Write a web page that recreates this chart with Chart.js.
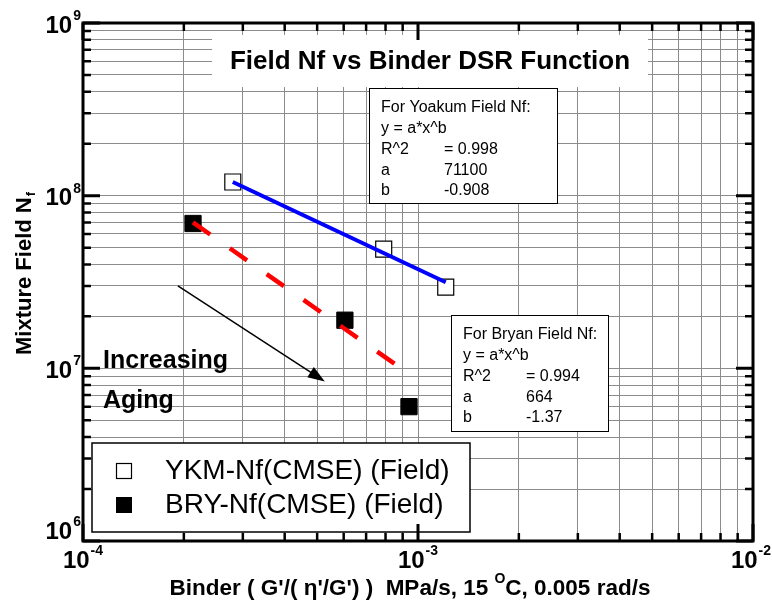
<!DOCTYPE html>
<html>
<head>
<meta charset="utf-8">
<script src="https://cdn.jsdelivr.net/npm/chart.js@4.4.0/dist/chart.umd.min.js"></script>
<style>
  html, body { margin: 0; padding: 0; background: #fff; }
  canvas { display: block; }
</style>
</head>
<body>
<canvas id="chart" width="772" height="604"></canvas>
<script>
// Data
const ykmX = [2.8e-4, 7.9e-4, 1.21e-3];
const ykmY = [1.2e8, 4.9e7, 2.95e7];
const bryX = [2.13e-4, 6.05e-4, 9.4e-4];
const bryY = [6.9e7, 1.9e7, 6.0e6];

// fitted power lines (end points as drawn)
const ykmFitX = [2.8e-4, 1.21e-3];
const ykmFitY = [1.2e8, 3.15e7];
const bryFitX = [2.13e-4, 8.9e-4];
const bryFitY = [7.0e7, 1.0e7];

// "Increasing Aging" arrow
const arrowX = [1.92e-4, 5.27e-4];
const arrowY = [3.0e7, 8.4e6];

// axes
const xExponents = [-4, -3, -2];
const yExponents = [6, 7, 8, 9];
const mantissas = [1, 2, 3, 4, 5, 6, 7, 8, 9];

const legendLabels = ['YKM-Nf(CMSE) (Field)', 'BRY-Nf(CMSE) (Field)'];
const yoakumLines = [['For Yoakum Field Nf:', ''], ['y = a*x^b', ''], ['R^2', '= 0.998'], ['a', '71100'], ['b', '-0.908']];
const bryanLines = [['For Bryan Field Nf:', ''], ['y = a*x^b', ''], ['R^2', '= 0.994'], ['a', '664'], ['b', '-1.37']];

function gridValues(exps) {
  const vals = [];
  for (let i = 0; i < exps.length; i++) {
    const e = exps[i];
    if (i === exps.length - 1) { vals.push(Math.pow(10, e)); break; }
    mantissas.forEach(m => vals.push(m * Math.pow(10, e)));
  }
  return vals;
}
const xGrid = gridValues(xExponents);
const yGrid = gridValues(yExponents);

function pts(xs, ys) {
  return xs.map((x, i) => ({ x: x, y: ys[i] }));
}

const FONT = "Arial, 'Liberation Sans', Helvetica, sans-serif";

function textBox(ctx, left, top, right, bottom, lines, textLeft, firstY, step) {
  ctx.save();
  ctx.fillStyle = '#fff';
  ctx.fillRect(left, top, right - left, bottom - top);
  ctx.strokeStyle = '#000';
  ctx.lineWidth = 1;
  ctx.strokeRect(left + 0.5, top + 0.5, right - left, bottom - top);
  ctx.fillStyle = '#000';
  ctx.font = '16px ' + FONT;
  ctx.textBaseline = 'middle';
  ctx.textAlign = 'left';
  lines.forEach((ln, i) => {
    const y = firstY + i * step;
    ctx.fillText(ln[0], textLeft, y);
    if (ln[1]) ctx.fillText(ln[1], textLeft + 63, y);
  });
  ctx.restore();
}

function powerLabel(ctx, exp, x, y, align) {
  ctx.save();
  ctx.fillStyle = '#000';
  ctx.textBaseline = 'middle';
  ctx.textAlign = 'left';
  ctx.font = 'bold 24px ' + FONT;
  const w1 = ctx.measureText('10').width;
  ctx.font = 'bold 14px ' + FONT;
  const w2 = ctx.measureText(String(exp)).width;
  const total = w1 + w2 + 1;
  let x0 = x;
  if (align === 'right') x0 = x - total;
  if (align === 'center') x0 = x - total / 2;
  ctx.font = 'bold 24px ' + FONT;
  ctx.fillText('10', x0, y);
  ctx.font = 'bold 14px ' + FONT;
  ctx.fillText(String(exp), x0 + w1 + 1, y - 10);
  ctx.restore();
}

const overlay = {
  id: 'overlay',
  beforeDatasetsDraw(chart) {
    const ctx = chart.ctx;
    // title box
    ctx.save();
    ctx.fillStyle = '#fff';
    ctx.fillRect(212, 35, 436, 52);
    ctx.fillStyle = '#000';
    ctx.font = 'bold 26px ' + FONT;
    ctx.textAlign = 'center';
    ctx.textBaseline = 'middle';
    ctx.fillText('Field Nf vs Binder DSR Function', 430, 62);
    ctx.restore();

    textBox(ctx, 369, 88, 557, 203, yoakumLines, 381, 108, 20.7);
    textBox(ctx, 451, 315, 608, 431, bryanLines, 463, 335, 20.7);

    // legend
    ctx.save();
    ctx.fillStyle = '#fff';
    ctx.fillRect(92, 443, 378, 89);
    ctx.strokeStyle = '#000';
    ctx.lineWidth = 1.5;
    ctx.strokeRect(92, 443, 378, 89);
    ctx.lineWidth = 1.2;
    ctx.strokeRect(116.5, 463.5, 15, 15);
    ctx.fillStyle = '#000';
    ctx.fillRect(116, 497, 16, 16);
    ctx.font = '28px ' + FONT;
    ctx.textBaseline = 'middle';
    ctx.fillText(legendLabels[0], 165, 471);
    ctx.fillText(legendLabels[1], 165, 505);
    ctx.restore();
  },
  afterDatasetsDraw(chart) {
    const ctx = chart.ctx;
    const xs = chart.scales.x, ys = chart.scales.y;
    const a = chart.chartArea;

    // arrow
    const x1 = xs.getPixelForValue(arrowX[0]), y1 = ys.getPixelForValue(arrowY[0]);
    const x2 = xs.getPixelForValue(arrowX[1]), y2 = ys.getPixelForValue(arrowY[1]);
    const ang = Math.atan2(y2 - y1, x2 - x1);
    ctx.save();
    ctx.strokeStyle = '#000';
    ctx.fillStyle = '#000';
    ctx.lineWidth = 1.5;
    ctx.beginPath();
    ctx.moveTo(x1, y1);
    ctx.lineTo(x2 - 12 * Math.cos(ang), y2 - 12 * Math.sin(ang));
    ctx.stroke();
    ctx.beginPath();
    ctx.moveTo(x2, y2);
    ctx.lineTo(x2 - 17 * Math.cos(ang) + 6 * Math.sin(ang), y2 - 17 * Math.sin(ang) - 6 * Math.cos(ang));
    ctx.lineTo(x2 - 17 * Math.cos(ang) - 6 * Math.sin(ang), y2 - 17 * Math.sin(ang) + 6 * Math.cos(ang));
    ctx.closePath();
    ctx.fill();

    ctx.font = 'bold 25px ' + FONT;
    ctx.textBaseline = 'alphabetic';
    ctx.fillText('Increasing', 103, 368);
    ctx.fillText('Aging', 103, 408);
    ctx.restore();

    // frame and inward ticks
    ctx.save();
    ctx.strokeStyle = '#000';
    ctx.lineWidth = 3;
    ctx.strokeRect(a.left, a.top, a.right - a.left, a.bottom - a.top);
    ctx.lineCap = 'butt';
    xGrid.forEach(v => {
      const px = xs.getPixelForValue(v);
      const major = Math.abs(Math.log10(v) - Math.round(Math.log10(v))) < 1e-6;
      const len = major ? 17 : 8;
      ctx.lineWidth = major ? 3 : 2.5;
      ctx.beginPath();
      ctx.moveTo(px, a.bottom); ctx.lineTo(px, a.bottom - len);
      ctx.moveTo(px, a.top); ctx.lineTo(px, a.top + len);
      ctx.stroke();
    });
    yGrid.forEach(v => {
      const py = ys.getPixelForValue(v);
      const major = Math.abs(Math.log10(v) - Math.round(Math.log10(v))) < 1e-6;
      const len = major ? 17 : 8;
      ctx.lineWidth = major ? 3 : 2.5;
      ctx.beginPath();
      ctx.moveTo(a.left, py); ctx.lineTo(a.left + len, py);
      ctx.moveTo(a.right, py); ctx.lineTo(a.right - len, py);
      ctx.stroke();
    });
    ctx.restore();

    // tick labels
    yExponents.forEach(e => {
      const py = ys.getPixelForValue(Math.pow(10, e));
      powerLabel(ctx, e, 81, e === yExponents[0] ? py - 9 : py + 3, 'right');
    });
    xExponents.forEach((e, i) => {
      const px = xs.getPixelForValue(Math.pow(10, e));
      powerLabel(ctx, e, i === xExponents.length - 1 ? px - 2 : px, 561, 'center');
    });

    // axis titles
    ctx.save();
    ctx.fillStyle = '#000';
    ctx.textBaseline = 'middle';
    const p1 = "Binder ( G'/( \u03b7'/G') )  MPa/s, 15 ";
    const p2 = "C, 0.005 rad/s";
    ctx.font = 'bold 22.5px ' + FONT;
    const w1 = ctx.measureText(p1).width;
    const w3 = ctx.measureText(p2).width;
    ctx.font = 'bold 14px ' + FONT;
    const w2 = ctx.measureText('O').width;
    let x0 = 410 - (w1 + w2 + w3) / 2;
    ctx.font = 'bold 22.5px ' + FONT;
    ctx.fillText(p1, x0, 589);
    ctx.font = 'bold 14px ' + FONT;
    ctx.fillText('O', x0 + w1, 579);
    ctx.font = 'bold 22.5px ' + FONT;
    ctx.fillText(p2, x0 + w1 + w2, 589);

    ctx.translate(25, 274);
    ctx.rotate(-Math.PI / 2);
    ctx.font = 'bold 22px ' + FONT;
    const t1 = 'Mixture Field N';
    const tw = ctx.measureText(t1).width;
    ctx.font = 'bold 13px ' + FONT;
    const tw2 = ctx.measureText('f').width;
    const sx = -(tw + tw2) / 2;
    ctx.font = 'bold 22px ' + FONT;
    ctx.fillText(t1, sx, 0);
    ctx.font = 'bold 13px ' + FONT;
    ctx.fillText('f', sx + tw + 1, 6);
    ctx.restore();
  }
};

const ctx = document.getElementById('chart').getContext('2d');
new Chart(ctx, {
  type: 'scatter',
  data: {
    datasets: [
      {
        label: 'YKM fit',
        data: pts(ykmFitX, ykmFitY),
        showLine: true,
        borderColor: '#0000ff',
        borderWidth: 4,
        pointRadius: 0
      },
      {
        label: 'BRY fit',
        data: pts(bryFitX, bryFitY),
        showLine: true,
        borderColor: '#ff0000',
        borderWidth: 4.5,
        borderDash: [21, 24],
        pointRadius: 0
      },
      {
        label: legendLabels[0],
        data: pts(ykmX, ykmY),
        pointStyle: 'rect',
        pointRadius: 11.3,
        backgroundColor: '#fff',
        borderColor: '#000',
        borderWidth: 1.2
      },
      {
        label: legendLabels[1],
        data: pts(bryX, bryY),
        pointStyle: 'rect',
        pointRadius: 11.5,
        backgroundColor: '#000',
        borderColor: '#000',
        borderWidth: 1
      }
    ]
  },
  options: {
    responsive: false,
    animation: false,
    layout: { padding: { left: 83, top: 23, right: 19, bottom: 63 } },
    plugins: {
      legend: { display: false },
      tooltip: { enabled: false }
    },
    scales: {
      x: {
        type: 'logarithmic',
        min: 1e-4,
        max: 1e-2,
        afterBuildTicks: axis => { axis.ticks = xGrid.map(v => ({ value: v })); },
        ticks: { display: false },
        grid: { color: '#8c8c8c', lineWidth: 1, drawTicks: false },
        border: { display: false }
      },
      y: {
        type: 'logarithmic',
        min: 1e6,
        max: 1e9,
        afterBuildTicks: axis => { axis.ticks = yGrid.map(v => ({ value: v })); },
        ticks: { display: false },
        grid: { color: '#8c8c8c', lineWidth: 1, drawTicks: false },
        border: { display: false }
      }
    }
  },
  plugins: [overlay]
});
</script>
</body>
</html>
